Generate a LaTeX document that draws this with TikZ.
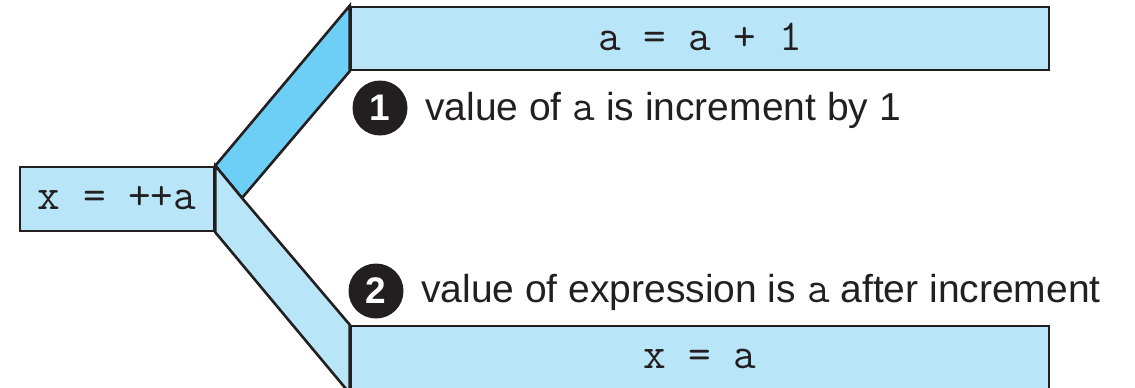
\documentclass[tikz,border=0pt]{standalone}
\usepackage{fontspec}
\setmainfont{Liberation Sans}
\usetikzlibrary{backgrounds}
\definecolor{boxblue}{RGB}{185,229,248}
\definecolor{bandblue}{RGB}{109,207,245}
\definecolor{edge}{RGB}{35,31,32}
\newcommand{\codetext}{\ttfamily\fontsize{44}{46}\selectfont}
\begin{document}
\begin{tikzpicture}[x=1pt,y=-1pt,
  codebox/.style={draw=edge, fill=boxblue, line width=2.6pt, rectangle, inner sep=0pt,
    font=\codetext, text=edge, text depth=0pt},
  bandline/.style={draw=edge, line width=2.6pt, line join=miter},
  notetext/.style={inner sep=0pt, font=\fontsize{39}{40}\selectfont, text=edge},
  numdot/.style={circle, fill=edge, text=white, minimum size=55pt, inner sep=0pt,
    font=\bfseries\fontsize{37}{38}\selectfont}
]
\clip (0,0) rectangle (1135,388);
\node[codebox, minimum width=194pt, minimum height=64pt, text height=20pt] (L) at (117,199) {x = ++a};
\node[codebox, minimum width=698pt, minimum height=63pt, text height=23pt] (T) at (700,38.5) {a = a + 1};
\node[codebox, minimum width=698pt, minimum height=66pt, text height=18pt] (B) at (700,359) {x = a};
\coordinate (J) at (242,198);
\begin{scope}[on background layer]
  \path[bandline, fill=bandblue] (L.north east) -- (T.north west) -- (T.south west) -- (J) -- cycle;
  \path[bandline, fill=boxblue] (L.north east) -- (J) -- (B.north west) -- (B.south west) -- (L.south east) -- cycle;
\end{scope}
\node[numdot] (c1) at (380,108) {1};
\node[notetext, anchor=base west] (n1) at (425,120) {value of {\codetext a} is increment by 1};
\node[numdot] (c2) at (376,291) {2};
\node[notetext, anchor=base west] (n2) at (421,302) {value of expression is {\codetext a} after increment};
\end{tikzpicture}
\end{document}
